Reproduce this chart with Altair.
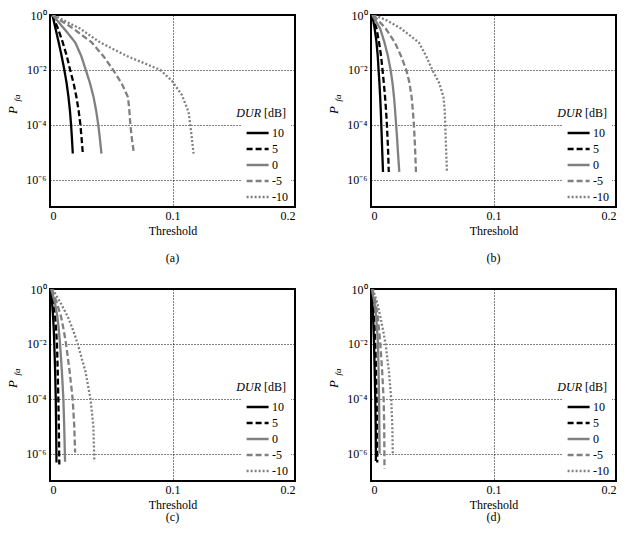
import altair as alt
import pandas as pd

FONT = "Liberation Serif"

# Series order, stroke colours and dash patterns (DUR in dB)
DUR_LEVELS = ["10", "5", "0", "-5", "-10"]
LINE_COLORS = ["#000000", "#000000", "#808080", "#808080", "#808080"]
LINE_DASHES = [[1, 0], [6, 3], [1, 0], [6, 3], [2, 2]]

Y_TICKS = [1, 1e-2, 1e-4, 1e-6]
X_TICKS = [0, 0.1, 0.2]

# ---- panel (a): threshold and false-alarm probability per DUR curve ----
THR_A = {
    "10": [0.002, 0.0045, 0.0071, 0.0095, 0.0117, 0.0136, 0.0151, 0.0163, 0.0172, 0.0179, 0.0186],
    "5": [0.002, 0.0065, 0.0104, 0.0137, 0.0164, 0.0193, 0.0216, 0.0234, 0.0248, 0.0258, 0.0268],
    "0": [0.002, 0.0115, 0.0206, 0.0255, 0.0292, 0.0327, 0.0356, 0.0377, 0.0394, 0.0407, 0.042],
    "-5": [0.002, 0.019, 0.034, 0.0435, 0.0515, 0.0585, 0.0637, 0.0648, 0.0656, 0.0668, 0.0685],
    "-10": [0.003, 0.0136, 0.0245, 0.0409, 0.0627, 0.0899, 0.0995, 0.1077, 0.1131, 0.1145, 0.1158, 0.1172],
}
PFA_A = {
    "10": [1, 3.2e-1, 1e-1, 3.2e-2, 1e-2, 3.2e-3, 1e-3, 3.2e-4, 1e-4, 3.2e-5, 8.9e-6],
    "5": [1, 3.2e-1, 1e-1, 3.2e-2, 1e-2, 3.2e-3, 1e-3, 3.2e-4, 1e-4, 3.2e-5, 8.9e-6],
    "0": [1, 3.2e-1, 1e-1, 3.2e-2, 1e-2, 3.2e-3, 1e-3, 3.2e-4, 1e-4, 3.2e-5, 8.9e-6],
    "-5": [1, 3.2e-1, 1e-1, 3.2e-2, 1e-2, 3.2e-3, 1e-3, 3.2e-4, 1e-4, 3.2e-5, 8.9e-6],
    "-10": [1, 5.6e-1, 3.2e-1, 1e-1, 3.2e-2, 1e-2, 4e-3, 1.2e-3, 2.9e-4, 1e-4, 3.2e-5, 8.9e-6],
}

# ---- panel (b) ----
THR_B = {
    "10": [0.001, 0.003, 0.0045, 0.0055, 0.0062, 0.0069, 0.0075, 0.008, 0.0084, 0.0088, 0.0092, 0.0098],
    "5": [0.001, 0.0045, 0.0066, 0.0082, 0.0094, 0.0105, 0.0115, 0.0123, 0.013, 0.0135, 0.014, 0.0145],
    "0": [0.001, 0.0075, 0.011, 0.0138, 0.016, 0.0176, 0.0188, 0.0197, 0.0205, 0.0213, 0.022, 0.0231],
    "-5": [0.002, 0.012, 0.0195, 0.0245, 0.0288, 0.0315, 0.0332, 0.0342, 0.035, 0.0356, 0.0361, 0.0367],
    "-10": [0.003, 0.013, 0.0245, 0.039, 0.045, 0.05, 0.0558, 0.0592, 0.0602, 0.0606, 0.061, 0.0614, 0.062],
}
PFA_B = {
    "10": [1, 3.2e-1, 1e-1, 3.2e-2, 1e-2, 3.2e-3, 1e-3, 3.2e-4, 1e-4, 3.2e-5, 1e-5, 1.9e-6],
    "5": [1, 3.2e-1, 1e-1, 3.2e-2, 1e-2, 3.2e-3, 1e-3, 3.2e-4, 1e-4, 3.2e-5, 1e-5, 1.9e-6],
    "0": [1, 3.2e-1, 1e-1, 3.2e-2, 1e-2, 3.2e-3, 1e-3, 3.2e-4, 1e-4, 3.2e-5, 1e-5, 1.9e-6],
    "-5": [1, 3.2e-1, 1e-1, 3.2e-2, 1e-2, 3.2e-3, 1e-3, 3.2e-4, 1e-4, 3.2e-5, 1e-5, 1.9e-6],
    "-10": [1, 6.3e-1, 3.2e-1, 1e-1, 3.2e-2, 1e-2, 3.2e-3, 1e-3, 3.2e-4, 1e-4, 3.2e-5, 1e-5, 1.9e-6],
}

# ---- panel (c) ----
THR_C = {
    "10": [0.0005, 0.0017, 0.0025, 0.0031, 0.0035, 0.0042, 0.0047, 0.005, 0.0053],
    "5": [0.0008, 0.0028, 0.0042, 0.005, 0.0057, 0.0063, 0.0068, 0.0072, 0.0076],
    "0": [0.001, 0.004, 0.006, 0.0072, 0.0082, 0.0097, 0.0109, 0.0116, 0.0123],
    "-5": [0.0015, 0.0055, 0.009, 0.0112, 0.0131, 0.016, 0.0185, 0.0198, 0.0205],
    "-10": [0.002, 0.0085, 0.0144, 0.0188, 0.0226, 0.0289, 0.033, 0.0354, 0.0362],
}
PFA_C = {
    "10": [1, 3.2e-1, 1e-1, 3.2e-2, 1e-2, 1e-3, 1e-4, 1e-5, 4.7e-7],
    "5": [1, 3.2e-1, 1e-1, 3.2e-2, 1e-2, 1e-3, 1e-4, 1e-5, 4e-7],
    "0": [1, 3.2e-1, 1e-1, 3.2e-2, 1e-2, 1e-3, 1e-4, 1e-5, 5e-7],
    "-5": [1, 3.2e-1, 1e-1, 3.2e-2, 1e-2, 1e-3, 1e-4, 1e-5, 1.1e-6],
    "-10": [1, 3.2e-1, 1e-1, 3.2e-2, 1e-2, 1e-3, 1e-4, 1e-5, 5e-7],
}

# ---- panel (d) ----
THR_D = {
    "10": [0.0003, 0.0011, 0.0017, 0.0021, 0.0025, 0.003, 0.0035, 0.0038, 0.004],
    "5": [0.0005, 0.0017, 0.0025, 0.003, 0.0035, 0.0041, 0.0046, 0.0049, 0.0051],
    "0": [0.0007, 0.0028, 0.0042, 0.005, 0.0057, 0.0062, 0.0066, 0.0068, 0.007],
    "-5": [0.001, 0.0037, 0.0055, 0.0066, 0.0076, 0.0091, 0.0103, 0.0108, 0.011],
    "-10": [0.0015, 0.005, 0.0076, 0.0098, 0.0119, 0.0146, 0.0165, 0.0174, 0.0178],
}
PFA_D = {
    "10": [1, 3.2e-1, 1e-1, 3.2e-2, 1e-2, 1e-3, 1e-4, 1e-5, 5.4e-7],
    "5": [1, 3.2e-1, 1e-1, 3.2e-2, 1e-2, 1e-3, 1e-4, 1e-5, 4.7e-7],
    "0": [1, 3.2e-1, 1e-1, 3.2e-2, 1e-2, 1e-3, 1e-4, 1e-5, 1e-6],
    "-5": [1, 3.2e-1, 1e-1, 3.2e-2, 1e-2, 1e-3, 1e-4, 1e-5, 2.8e-7],
    "-10": [1, 3.2e-1, 1e-1, 3.2e-2, 1e-2, 1e-3, 1e-4, 1e-5, 1e-6],
}


def curves_frame(thr, pfa):
    rows = []
    for dur in DUR_LEVELS:
        for i, (t, p) in enumerate(zip(thr[dur], pfa[dur])):
            rows.append({"dur": dur, "thr": t, "pfa": p, "idx": i})
    return pd.DataFrame(rows)


Y_LABELS = (
    "datum.value > 0.5 ? '10\u2070' : datum.value > 0.005 ? '10\u207b\u00b2' : "
    "datum.value > 0.00005 ? '10\u207b\u2074' : '10\u207b\u2076'"
)

ONE_ROW = pd.DataFrame({"k": [0]})


def panel(thr, pfa, tag, tag_y):
    df = curves_frame(thr, pfa)
    legend = alt.Legend(
        title=None,
        orient="none",
        legendX=191,
        legendY=108,
        fillColor="white",
        padding=3,
        symbolType="M-0.8,0H3.2",
        symbolSize=121,
        symbolStrokeWidth=2.3,
        labelFont=FONT,
        labelFontSize=12,
        labelColor="black",
        labelOffset=14,
        rowPadding=3,
    )
    lines = alt.Chart(df).mark_line(strokeWidth=2.3, clip=True).encode(
        x=alt.X(
            "thr:Q",
            scale=alt.Scale(domain=[0, 0.2], nice=False, zero=False),
            axis=alt.Axis(
                values=X_TICKS,
                format="~g",
                title="Threshold",
                labelFont=FONT,
                titleFont=FONT,
                labelPadding=3,
                titlePadding=4,
            ),
        ),
        y=alt.Y(
            "pfa:Q",
            scale=alt.Scale(type="log", domain=[1e-7, 1], nice=False),
            axis=alt.Axis(
                values=Y_TICKS, labelExpr=Y_LABELS, title=None, labelFont=FONT, labelPadding=4
            ),
        ),
        color=alt.Color(
            "dur:N", scale=alt.Scale(domain=DUR_LEVELS, range=LINE_COLORS), legend=legend
        ),
        strokeDash=alt.StrokeDash(
            "dur:N", scale=alt.Scale(domain=DUR_LEVELS, range=LINE_DASHES), legend=legend
        ),
        order="idx:Q",
    )
    p_main = alt.Chart(ONE_ROW).mark_text(
        text="P", font=FONT, fontSize=13, fontStyle="italic", angle=270, baseline="middle"
    ).encode(x=alt.value(-37), y=alt.value(95))
    p_sub = alt.Chart(ONE_ROW).mark_text(
        text="fa", font=FONT, fontSize=9, fontStyle="italic", angle=270, baseline="middle"
    ).encode(x=alt.value(-33), y=alt.value(83))
    dur_word = alt.Chart(ONE_ROW).mark_text(
        text="DUR", font=FONT, fontSize=12, fontStyle="italic", align="right", baseline="middle"
    ).encode(x=alt.value(211), y=alt.value(98))
    db_word = alt.Chart(ONE_ROW).mark_text(
        text="[dB]", font=FONT, fontSize=12, align="left", baseline="middle"
    ).encode(x=alt.value(214), y=alt.value(98))
    tag_text = alt.Chart(ONE_ROW).mark_text(
        text=tag, font=FONT, fontSize=12, align="center", baseline="middle", color="black"
    ).encode(x=alt.value(122.5), y=alt.value(tag_y))
    return alt.layer(lines, p_main, p_sub, dur_word, db_word, tag_text).properties(
        width=245, height=192
    )


pa = panel(THR_A, PFA_A, "(a)", 243)
pb = panel(THR_B, PFA_B, "(b)", 243)
pc = panel(THR_C, PFA_C, "(c)", 228)
pd_ = panel(THR_D, PFA_D, "(d)", 228)

chart = (
    alt.concat(pa, pb, pc, pd_, columns=2, spacing={"row": 82, "column": 76}, bounds="flush")
    .resolve_scale(color="independent", strokeDash="independent")
    .configure(font=FONT)
    .configure_view(stroke="black", strokeWidth=2)
    .configure_axis(
        labelFont=FONT,
        labelFontSize=12,
        labelColor="black",
        titleFont=FONT,
        titleFontSize=12,
        titleFontWeight="normal",
        titleColor="black",
        domain=False,
        ticks=False,
        grid=True,
        gridColor="black",
        gridDash=[1, 2],
        gridOpacity=1,
        gridWidth=1,
    )
    .configure_legend(labelFont=FONT)
    .properties(padding={"left": 6, "top": 8, "right": 4, "bottom": 6}, background="white")
)

chart.save("out.html", embed_options={"renderer": "svg", "actions": False})
